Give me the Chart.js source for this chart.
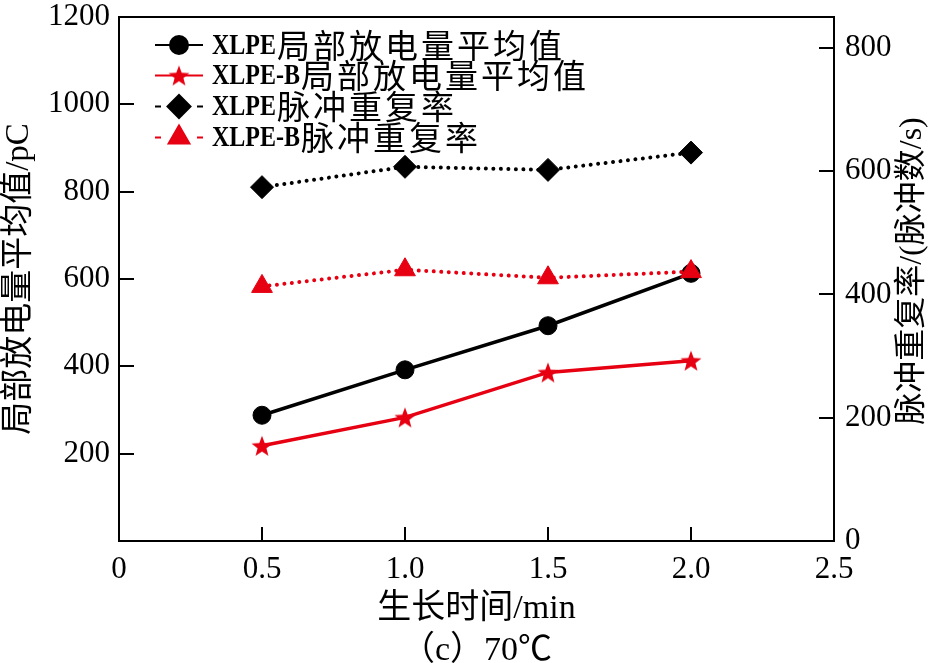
<!DOCTYPE html>
<html>
<head>
<meta charset="utf-8">
<script src="https://cdn.jsdelivr.net/npm/chart.js@4"></script>
<style>
  html, body { margin: 0; padding: 0; background: #fff; }
  #wrap { width: 945px; height: 663px; }
</style>
</head>
<body>
<div id="wrap"><canvas id="chart1" width="945" height="663"></canvas></div>
<script>
// growth time (min)
const times = [0.5, 1.0, 1.5, 2.0];
// mean PD magnitude (pC), left axis
const xlpePD = [288, 392, 493, 613];
const xlpeBPD = [218, 283, 386, 413];
// pulse repetition rate (pulses/s), right axis
const xlpeRate = [574, 607, 602, 630];
const xlpeBRate = [413, 440, 427, 437];

const xTickLabels = ['0', '0.5', '1.0', '1.5', '2.0', '2.5'];
const leftTicks = [0, 200, 400, 600, 800, 1000, 1200];
const rightTicks = [0, 200, 400, 600, 800];
const seriesNames = ['XLPE局部放电量平均值', 'XLPE-B局部放电量平均值', 'XLPE脉冲重复率', 'XLPE-B脉冲重复率'];
const xTitle = ['生长时间/min', '（c）70℃'];
const leftTitle = '局部放电量平均值/pC';
const rightTitle = '脉冲重复率/(脉冲数/s)';

const RED = '#e60012';
const serif = "'Liberation Serif', 'Noto Sans CJK SC'";

function makeStar(r, color) {
  const c = document.createElement('canvas');
  c.width = c.height = Math.ceil(r * 2) + 2;
  const g = c.getContext('2d');
  const cx = c.width / 2, cy = c.height / 2 + r * 0.1;
  g.beginPath();
  for (let k = 0; k < 10; k++) {
    const rr = k % 2 ? r * 0.42 : r;
    const a = -Math.PI / 2 + k * Math.PI / 5;
    g.lineTo(cx + rr * Math.cos(a), cy + rr * Math.sin(a));
  }
  g.closePath();
  g.fillStyle = color;
  g.fill();
  return c;
}
const starImg = makeStar(11, RED);

function pts(arr) {
  return times.map((t, i) => ({ x: t, y: arr[i] }));
}

const dotted = [0.01, 7.5];

// frame, inward ticks, right title, legend
const decoPlugin = {
  id: 'deco',
  afterDraw(chart) {
    const ctx = chart.ctx;
    const a = chart.chartArea;
    const sx = chart.scales.x, sy = chart.scales.y, sy2 = chart.scales.y2;
    ctx.save();
    ctx.strokeStyle = '#000';
    ctx.lineWidth = 2;
    ctx.strokeRect(a.left, a.top, a.right - a.left, a.bottom - a.top);
    ctx.beginPath();
    sx.ticks.forEach(t => {
      if (t.value <= sx.min || t.value >= sx.max) return;
      const p = Math.round(sx.getPixelForValue(t.value));
      ctx.moveTo(p, a.bottom); ctx.lineTo(p, a.bottom - 14);
    });
    sy.ticks.forEach(t => {
      if (t.value <= sy.min || t.value >= sy.max) return;
      const p = Math.round(sy.getPixelForValue(t.value));
      ctx.moveTo(a.left, p); ctx.lineTo(a.left + 15, p);
    });
    sy2.ticks.forEach(t => {
      if (t.value <= sy2.min || t.value >= sy2.max) return;
      const p = Math.round(sy2.getPixelForValue(t.value));
      ctx.moveTo(a.right, p); ctx.lineTo(a.right - 15, p);
    });
    ctx.stroke();

    // right axis title, reads bottom to top
    ctx.save();
    ctx.translate(913, 271);
    ctx.rotate(-Math.PI / 2);
    ctx.fillStyle = '#000';
    ctx.font = '32px ' + serif;
    ctx.textAlign = 'center';
    ctx.textBaseline = 'middle';
    ctx.fillText(rightTitle, 0, 0);
    ctx.restore();

    // legend
    const rowY = [45, 75.5, 106.5, 137.5];
    chart.data.datasets.forEach((ds, i) => {
      const y = rowY[i];
      ctx.strokeStyle = ds.borderColor;
      ctx.lineWidth = 2;
      ctx.beginPath();
      if (ds.borderDash && ds.borderDash.length) {
        ctx.moveTo(155, y); ctx.lineTo(161, y);
        ctx.moveTo(197, y); ctx.lineTo(203, y);
      } else {
        ctx.moveTo(155, y); ctx.lineTo(203, y);
      }
      ctx.stroke();
      const style = ds.pointStyle;
      if (style instanceof HTMLCanvasElement) {
        ctx.drawImage(style, 179 - style.width / 2, y - style.height / 2);
      } else {
        Chart.helpers.drawPoint(ctx, {
          pointStyle: style, radius: ds.pointRadius, borderWidth: 1
        }, 179, y);
        ctx.fillStyle = ds.pointBackgroundColor;
        ctx.fill();
      }
      const m = seriesNames[i].match(/^([A-Za-z\-]+)(.*)$/);
      ctx.fillStyle = '#000';
      ctx.textBaseline = 'middle';
      ctx.textAlign = 'left';
      ctx.font = 'bold 30px "Liberation Serif"';
      const w = ctx.measureText(m[1]).width * 0.8;
      ctx.save();
      ctx.translate(212, y + 1);
      ctx.scale(0.8, 1);
      ctx.fillText(m[1], 0, 0);
      ctx.restore();
      ctx.font = '33px "Noto Sans CJK SC"';
      ctx.letterSpacing = '3px';
      ctx.fillText(m[2], 212 + w + 1, y);
      ctx.letterSpacing = '0px';
    });
    ctx.restore();
  }
};

const ctx = document.getElementById('chart1').getContext('2d');
const chart1 = new Chart(ctx, {
  type: 'line',
  data: {
    datasets: [
      {
        label: seriesNames[0], data: pts(xlpePD), yAxisID: 'y', order: 3,
        borderColor: '#000', borderWidth: 3.5, pointStyle: 'circle', pointRadius: 9,
        pointBackgroundColor: '#000', pointBorderColor: '#000', pointBorderWidth: 1
      },
      {
        label: seriesNames[1], data: pts(xlpeBPD), yAxisID: 'y', order: 2,
        borderColor: RED, borderWidth: 3.5, pointStyle: starImg, pointRadius: 11,
        pointBackgroundColor: RED, pointBorderColor: RED
      },
      {
        label: seriesNames[2], data: pts(xlpeRate), yAxisID: 'y2', order: 1,
        borderColor: '#000', borderWidth: 4, borderDash: dotted, borderCapStyle: 'round',
        pointStyle: 'rectRot', pointRadius: 11.5,
        pointBackgroundColor: '#000', pointBorderColor: '#000', pointBorderWidth: 1
      },
      {
        label: seriesNames[3], data: pts(xlpeBRate), yAxisID: 'y2', order: 0,
        borderColor: RED, borderWidth: 4, borderDash: dotted, borderCapStyle: 'round',
        pointStyle: 'triangle', pointRadius: 12,
        pointBackgroundColor: RED, pointBorderColor: RED, pointBorderWidth: 1
      }
    ]
  },
  options: {
    responsive: false,
    animation: false,
    devicePixelRatio: 1,
    layout: { padding: { top: 17, left: 0, right: 0, bottom: 0 } },
    plugins: { legend: { display: false }, tooltip: { enabled: false } },
    scales: {
      x: {
        type: 'linear', min: 0, max: 2.5,
        afterFit: s => { s.height = 122; },
        afterBuildTicks: s => { s.ticks = xTickLabels.map(l => ({ value: parseFloat(l) })); },
        grid: { display: false, drawTicks: false },
        border: { display: false },
        ticks: {
          padding: 10, color: '#000', maxRotation: 0,
          font: { family: 'Liberation Serif', size: 31 },
          callback: (v, i) => xTickLabels[i]
        },
        title: {
          display: true, text: xTitle, color: '#000',
          font: { family: serif, size: 34, lineHeight: 1.235 },
          padding: { top: 0, bottom: -9 }
        }
      },
      y: {
        position: 'left', min: 0, max: 1200,
        afterFit: s => { s.width = 119; },
        afterBuildTicks: s => { s.ticks = leftTicks.map(v => ({ value: v })); },
        grid: { display: false, drawTicks: false },
        border: { display: false },
        ticks: {
          padding: 9, color: '#000',
          font: { family: 'Liberation Serif', size: 31, lineHeight: 0.2 },
          callback: v => (v === 0 ? '' : String(v))
        },
        title: {
          display: true, text: leftTitle, color: '#000',
          font: { family: serif, size: 33 },
          padding: { top: 0, bottom: 0 }
        }
      },
      y2: {
        position: 'right', min: 0, max: 850,
        afterFit: s => { s.width = 111; },
        afterBuildTicks: s => { s.ticks = rightTicks.map(v => ({ value: v })); },
        grid: { display: false, drawTicks: false },
        border: { display: false },
        ticks: {
          padding: 11, color: '#000',
          font: { family: 'Liberation Serif', size: 31, lineHeight: 0.2 },
          callback: v => String(v)
        }
      }
    }
  },
  plugins: [decoPlugin]
});
</script>
</body>
</html>
